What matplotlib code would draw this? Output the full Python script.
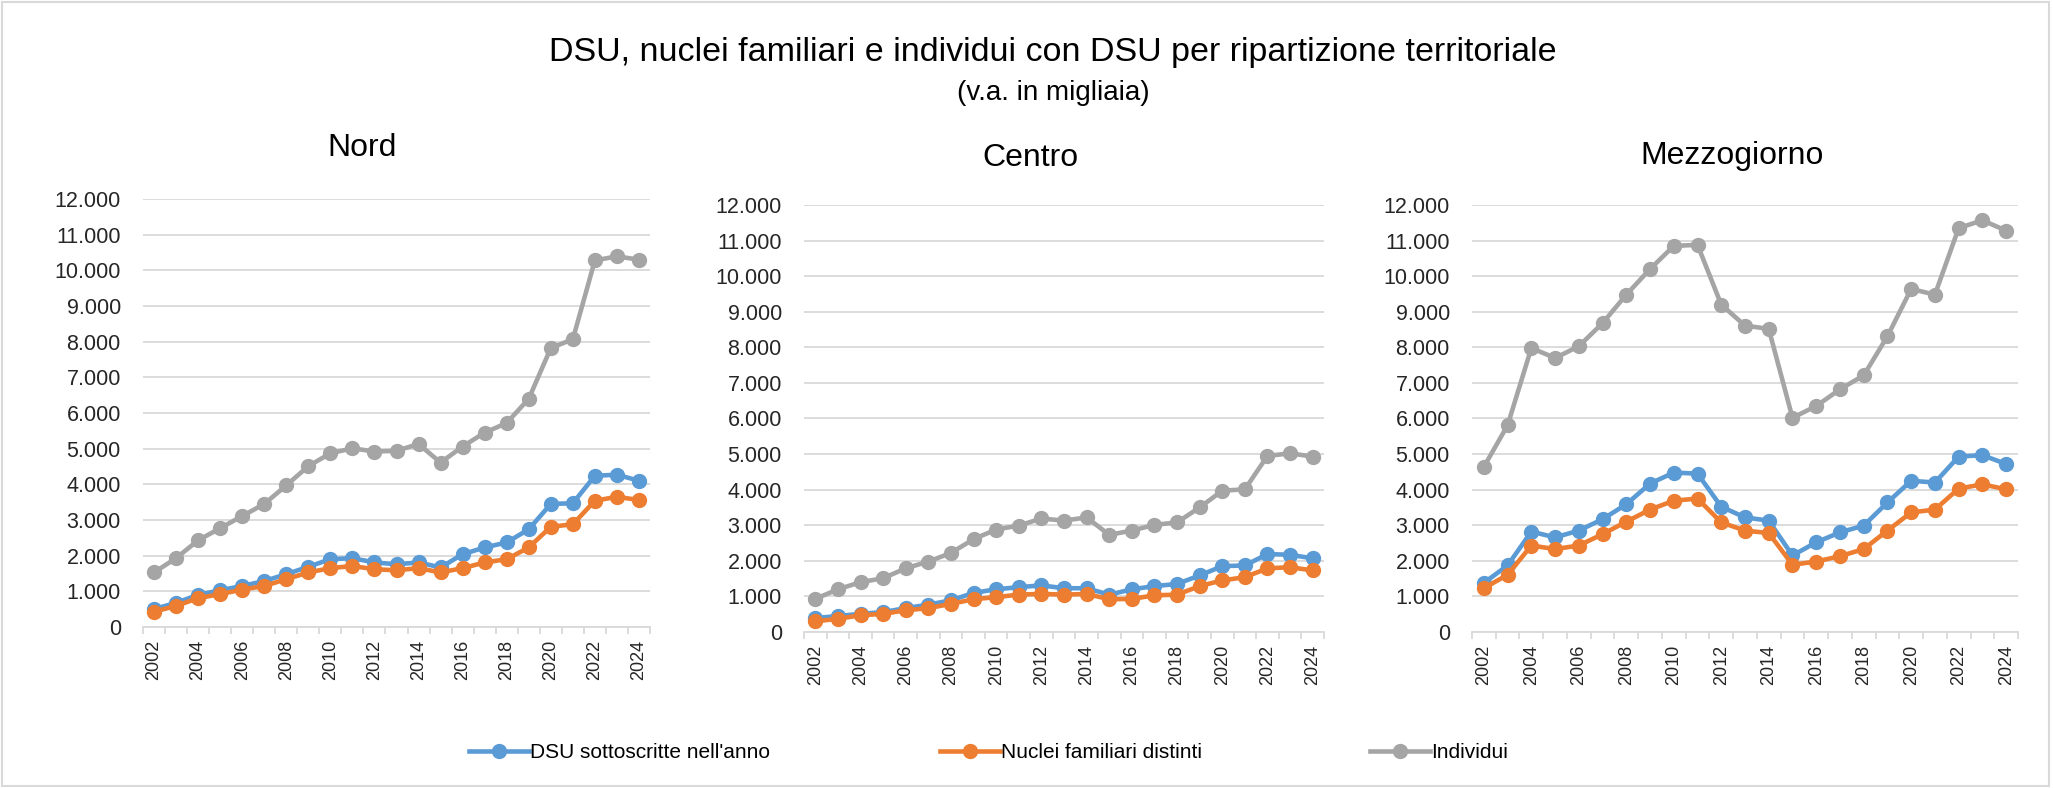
import matplotlib.pyplot as plt
import numpy as np
from matplotlib.ticker import FuncFormatter
from matplotlib.patches import Rectangle
from matplotlib.lines import Line2D

plt.rcParams['font.family'] = ['Liberation Sans', 'DejaVu Sans']

years = list(range(2002, 2025))
regions = ['Nord', 'Centro', 'Mezzogiorno']
series_names = ["DSU sottoscritte nell'anno", 'Nuclei familiari distinti', 'Individui']
colors = ['#5B9BD5', '#ED7D31', '#A5A5A5']

# migliaia
nord_dsu = [500, 680, 900, 1030, 1150, 1290, 1480, 1690, 1900, 1930, 1810, 1760, 1810, 1670,
            2040, 2230, 2370, 2740, 3450, 3470, 4240, 4270, 4100]
nord_nuclei = [430, 590, 810, 920, 1050, 1150, 1340, 1530, 1650, 1710, 1620, 1590, 1650, 1530,
               1650, 1810, 1900, 2230, 2810, 2880, 3540, 3650, 3560]
nord_individui = [1530, 1930, 2430, 2770, 3110, 3450, 3970, 4510, 4870, 5010, 4920, 4940, 5130, 4610,
                  5060, 5450, 5720, 6400, 7820, 8070, 10280, 10390, 10300]

centro_dsu = [390, 450, 510, 560, 670, 770, 890, 1100, 1200, 1260, 1310, 1230, 1230, 1050,
              1200, 1290, 1350, 1590, 1850, 1870, 2190, 2170, 2070]
centro_nuclei = [300, 370, 470, 510, 610, 670, 790, 920, 980, 1050, 1070, 1050, 1070, 920,
                 930, 1030, 1050, 1290, 1450, 1540, 1790, 1820, 1730]
centro_individui = [930, 1200, 1400, 1510, 1790, 1980, 2220, 2610, 2880, 2990, 3190, 3130, 3220, 2730,
                    2850, 3010, 3080, 3500, 3970, 4010, 4950, 5020, 4930]

mezz_dsu = [1380, 1870, 2820, 2660, 2850, 3170, 3590, 4170, 4480, 4450, 3520, 3220, 3130, 2150,
            2520, 2800, 2990, 3640, 4250, 4200, 4930, 4970, 4720]
mezz_nuclei = [1230, 1610, 2430, 2330, 2430, 2750, 3100, 3440, 3690, 3750, 3080, 2850, 2780, 1890,
               1980, 2130, 2330, 2850, 3360, 3440, 4030, 4150, 4010]
mezz_individui = [4640, 5810, 7980, 7700, 8030, 8680, 9480, 10200, 10850, 10880, 9200, 8610, 8520, 6020,
                  6350, 6820, 7210, 8310, 9640, 9480, 11350, 11570, 11280]

data = {
    'Nord': [nord_dsu, nord_nuclei, nord_individui],
    'Centro': [centro_dsu, centro_nuclei, centro_individui],
    'Mezzogiorno': [mezz_dsu, mezz_nuclei, mezz_individui],
}

W, H = 2053, 788
fig = plt.figure(figsize=(W / 100, H / 100), dpi=100)

# plot areas in pixels: left, right, top, bottom
boxes = {'Nord': (143, 650, 199, 627), 'Centro': (804, 1324, 205, 632), 'Mezzogiorno': (1472, 2018, 205, 632)}
title_pos = {'Nord': (362, 148), 'Centro': (1030, 158), 'Mezzogiorno': (1732, 156)}

fmt = FuncFormatter(lambda v, p: f"{int(v):,}".replace(',', '.'))
x = np.arange(len(years))

for reg in regions:
    l, r, t, b = boxes[reg]
    ax = fig.add_axes([l / W, 1 - b / H, (r - l) / W, (b - t) / H])
    for vals, c in zip(data[reg], colors):
        ax.plot(x, vals, color=c, lw=3.3, marker='o', ms=10, solid_capstyle='round')
    ax.set_xlim(-0.5, len(years) - 0.5)
    ax.set_ylim(0, 12000)
    ax.set_yticks(range(0, 12001, 1000))
    ax.yaxis.set_major_formatter(fmt)
    ax.grid(axis='y', color='#D9D9D9', lw=1.3)
    ax.set_axisbelow(True)
    ax.set_xticks(x[::2])
    ax.set_xticklabels([str(y) for y in years[::2]], rotation=90)
    ax.set_xticks(np.arange(-0.5, len(years), 1), minor=True)
    ax.tick_params(axis='x', which='major', length=0, pad=9, labelsize=13, labelcolor='#262626')
    ax.tick_params(axis='x', which='minor', length=5, width=1.3, color='#D9D9D9')
    ax.tick_params(axis='y', length=0, pad=16, labelsize=15.5, labelcolor='#262626')
    for s in ['top', 'right', 'left']:
        ax.spines[s].set_visible(False)
    ax.spines['bottom'].set_color('#D9D9D9')
    ax.spines['bottom'].set_linewidth(1.3)
    tx, ty = title_pos[reg]
    fig.text(tx / W, 1 - ty / H, reg, ha='center', va='center', fontsize=23, color='black')

fig.text(1053 / W, 1 - 52 / H, 'DSU, nuclei familiari e individui con DSU per ripartizione territoriale',
         ha='center', va='center', fontsize=24.5, color='black')
fig.text(1053 / W, 1 - 93 / H, '(v.a. in migliaia)', ha='center', va='center', fontsize=20, color='black')

# legend entries placed individually (uneven spacing as in the original)
legend_x = [469, 940, 1370]
for name, c, lx in zip(series_names, colors, legend_x):
    h = Line2D([], [], color=c, lw=3.3, marker='o', ms=10)
    fig.legend([h], [name], loc='center left', bbox_to_anchor=(lx / W, 1 - 753 / H),
               frameon=False, fontsize=15, handlelength=2.9, handletextpad=0.05,
               borderpad=0, borderaxespad=0)

fig.patches.append(Rectangle((0.001, 0.002), 0.997, 0.995, transform=fig.transFigure,
                             fill=False, edgecolor='#D9D9D9', lw=1.5))

fig.savefig('out.png', dpi=100, facecolor='white')
